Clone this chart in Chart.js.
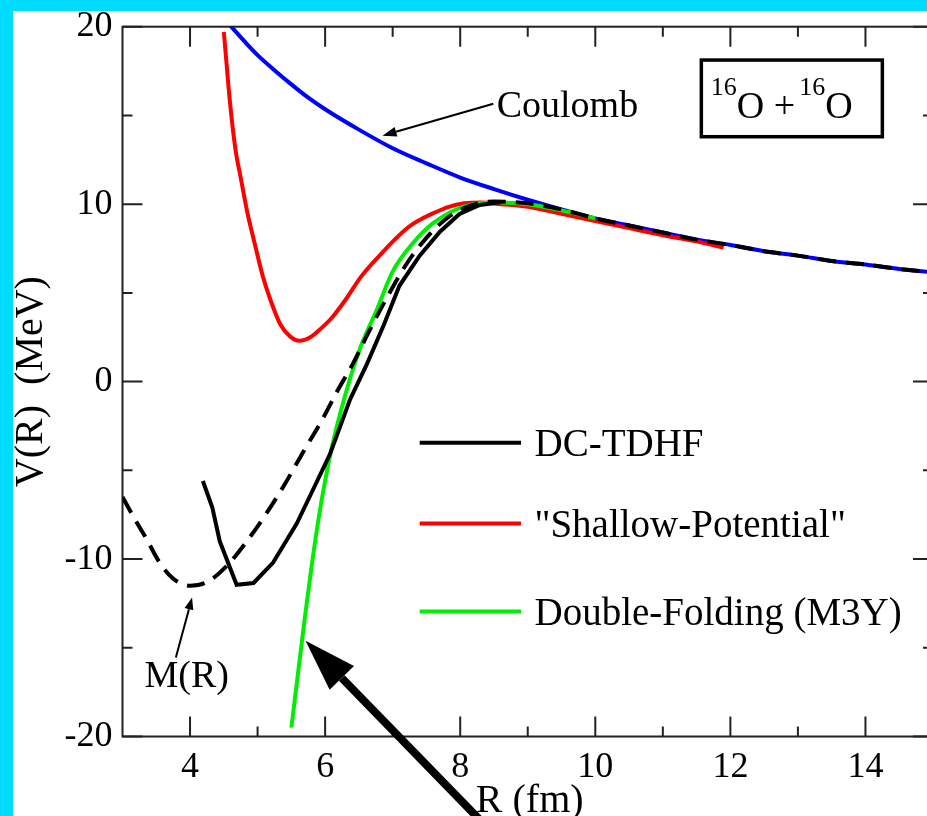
<!DOCTYPE html>
<html>
<head>
<meta charset="utf-8">
<script src="https://cdn.jsdelivr.net/npm/chart.js@4.4.1/dist/chart.umd.min.js"></script>
<style>
    html, body { margin: 0; padding: 0; overflow: hidden; width: 927px; height: 816px; background: #00dcff; }
    .panel { position: absolute; left: 13px; top: 11px; width: 930px; height: 805px; background: #fff; }
</style>
</head>
<body>
<div class="panel"><canvas id="potentialChart"></canvas></div>
<script>
// R in fm, V in MeV
const coulombR = [4.6, 4.8, 5.0, 5.25, 5.5, 5.75, 6.0, 6.5, 7.0, 7.5, 8.0, 8.5, 9.0, 9.5, 10.0, 10.5, 11.0, 11.5, 12.0, 12.5, 13.0, 13.5, 14.0, 14.5, 15.0];
const coulombV = [20.05, 19.2, 18.4, 17.55, 16.75, 16.0, 15.35, 14.2, 13.15, 12.3, 11.5, 10.85, 10.25, 9.7, 9.2, 8.8, 8.4, 8.0, 7.7, 7.35, 7.1, 6.8, 6.6, 6.35, 6.15];

const shallowR = [4.50, 4.53, 4.57, 4.62, 4.68, 4.75, 4.85, 4.95, 5.08, 5.2, 5.34, 5.48, 5.62, 5.78, 5.94, 6.1, 6.3, 6.53, 6.83, 7.03, 7.23, 7.42, 7.61, 7.83, 8.06, 8.3, 8.6, 9.0, 9.5, 10.0, 10.5, 11.0, 11.5, 11.9];
const shallowV = [19.7, 18.4, 16.6, 14.7, 12.9, 11.5, 9.5, 7.9, 5.9, 4.5, 3.2, 2.55, 2.3, 2.5, 3.0, 3.6, 4.6, 5.9, 7.2, 8.0, 8.7, 9.15, 9.5, 9.85, 10.05, 10.1, 10.0, 9.85, 9.45, 9.05, 8.65, 8.25, 7.9, 7.55];

const tdhfR = [4.19, 4.33, 4.44, 4.69, 4.94, 5.23, 5.58, 5.87, 6.07, 6.37, 6.62, 6.87, 7.1, 7.4, 7.7, 7.99, 8.29, 8.6];
const tdhfV = [-5.6, -7.1, -9.0, -11.45, -11.35, -10.2, -8.0, -5.7, -4.1, -1.0, 1.0, 3.2, 5.4, 7.1, 8.45, 9.45, 9.95, 10.1];

const mR = [3.0, 3.16, 3.36, 3.55, 3.75, 4.0, 4.25, 4.54, 4.84, 5.1, 5.4, 5.7, 5.95, 6.17, 6.41, 6.66, 6.91, 7.2, 7.5, 7.8, 8.14, 8.5, 9.0, 9.5, 10.0, 10.5, 11.0, 11.5, 12.0, 12.5, 13.0, 13.5, 14.0, 14.5, 15.0];
const mV = [-6.5, -7.6, -8.9, -10.2, -11.1, -11.5, -11.3, -10.4, -9.0, -7.6, -5.8, -3.8, -2.2, -0.6, 1.0, 2.9, 4.7, 6.6, 8.1, 9.2, 9.9, 10.15, 10.05, 9.7, 9.2, 8.8, 8.4, 8.0, 7.7, 7.35, 7.1, 6.8, 6.6, 6.35, 6.15];

const foldR = [5.50, 5.60, 5.70, 5.80, 5.90, 6.0, 6.1, 6.28, 6.51, 6.76, 7.0, 7.3, 7.59, 7.94, 8.29, 8.6, 9.0, 9.5, 10.0];
const foldV = [-19.5, -16.4, -13.3, -10.4, -7.8, -5.6, -3.7, -1.0, 1.8, 4.0, 6.2, 7.8, 8.9, 9.7, 10.05, 10.1, 10.0, 9.65, 9.2];

const xTickLabels = [4, 6, 8, 10, 12, 14];
const xMinorTicks = [5, 7, 9, 11, 13];
const yTickLabels = [-20, -10, 0, 10, 20];
const yMinorTicks = [-15, -5, 5, 15];

const legendLabels = ['DC-TDHF', '"Shallow-Potential"', 'Double-Folding (M3Y)'];
const legendColors = ['#000000', '#ff0000', '#00ee00'];

const SERIF = "'Liberation Serif', 'Times New Roman', serif";

function toPoints(rs, vs) {
    return rs.map((r, i) => ({ x: r, y: vs[i] }));
}

function arrow(ctx, x0, y0, x1, y1, width, headLen, headHalf) {
    const a = Math.atan2(y1 - y0, x1 - x0);
    const bx = x1 - headLen * Math.cos(a);
    const by = y1 - headLen * Math.sin(a);
    ctx.lineWidth = width;
    ctx.beginPath();
    ctx.moveTo(x0, y0);
    ctx.lineTo(bx, by);
    ctx.stroke();
    ctx.beginPath();
    ctx.moveTo(x1, y1);
    ctx.lineTo(bx + headHalf * Math.sin(a), by - headHalf * Math.cos(a));
    ctx.lineTo(bx - headHalf * Math.sin(a), by + headHalf * Math.cos(a));
    ctx.closePath();
    ctx.fill();
}

// box, ticks, legend and the arrows/labels on top of the curves
const decorations = {
    id: 'decorations',
    beforeDatasetsDraw(chart) {
        const { ctx, chartArea: a, scales: { x, y } } = chart;
        ctx.save();
        ctx.strokeStyle = '#222';
        ctx.lineWidth = 2;
        ctx.strokeRect(a.left, a.top, a.right - a.left, a.bottom - a.top);
        ctx.beginPath();
        const tickX = (v, len) => {
            const px = x.getPixelForValue(v);
            ctx.moveTo(px, a.bottom); ctx.lineTo(px, a.bottom - len);
            ctx.moveTo(px, a.top); ctx.lineTo(px, a.top + len);
        };
        const tickY = (v, len) => {
            const py = y.getPixelForValue(v);
            ctx.moveTo(a.left, py); ctx.lineTo(a.left + len, py);
            ctx.moveTo(a.right, py); ctx.lineTo(a.right - len, py);
        };
        xTickLabels.forEach(v => tickX(v, 20));
        xMinorTicks.forEach(v => tickX(v, 10));
        yTickLabels.forEach(v => tickY(v, 20));
        yMinorTicks.forEach(v => tickY(v, 10));
        ctx.stroke();
        ctx.restore();
    },
    afterDatasetsDraw(chart) {
        const { ctx, chartArea: a, scales: { x, y } } = chart;
        const px = v => x.getPixelForValue(v);
        const py = v => y.getPixelForValue(v);
        ctx.save();
        ctx.fillStyle = '#000';
        ctx.strokeStyle = '#000';
        ctx.textBaseline = 'alphabetic';

        // legend
        ctx.font = '39px ' + SERIF;
        const rows = [-3.45, -8.0, -12.96];
        legendLabels.forEach((label, i) => {
            const ly = py(rows[i]);
            ctx.strokeStyle = legendColors[i];
            ctx.lineWidth = 4;
            ctx.beginPath();
            ctx.moveTo(px(7.4), ly);
            ctx.lineTo(px(8.9), ly);
            ctx.stroke();
            ctx.fillText(label, px(9.1), ly + 13);
        });

        // Coulomb pointer
        ctx.font = '38px ' + SERIF;
        ctx.strokeStyle = '#000';
        ctx.fillText('Coulomb', px(8.54), py(14.9));
        arrow(ctx, px(8.49), py(15.66), px(6.85), py(13.86), 2, 14, 5);

        // M(R) pointer
        ctx.textAlign = 'center';
        ctx.fillText('M(R)', px(3.95), py(-17.2));
        ctx.textAlign = 'left';
        arrow(ctx, px(3.79), py(-15.55), px(4.03), py(-12.17), 2, 12, 4.5);

        // reaction box
        ctx.lineWidth = 3.5;
        ctx.strokeRect(px(11.57), py(18.12), px(14.25) - px(11.57), py(13.8) - py(18.12));
        let tx = px(11.71);
        const base = py(14.86), sup = py(16.15);
        const piece = (txt, size, yy, gap) => {
            ctx.font = size + 'px ' + SERIF;
            ctx.fillText(txt, tx, yy);
            tx += ctx.measureText(txt).width + gap;
        };
        piece('16', 26, sup, 0);
        piece('O', 38, base, 0);
        piece(' +', 38, base, 4);
        piece('16', 26, sup, 0);
        piece('O', 38, base, 0);

        // big pointer onto the folding curve
        arrow(ctx, px(8.47), py(-25.4), px(5.71), py(-14.6), 8, 52, 17);

        // axis titles
        ctx.font = '40px ' + SERIF;
        ctx.textAlign = 'center';
        ctx.fillText('R (fm)', (a.left + a.right) / 2 + 2, 800.7);
        ctx.translate(29, (a.top + a.bottom) / 2);
        ctx.rotate(-Math.PI / 2);
        ctx.fillText('V(R)  (MeV)', 0, 0);
        ctx.restore();
    }
};

const ctx = document.getElementById('potentialChart').getContext('2d');

new Chart(ctx, {
    type: 'scatter',
    data: {
        datasets: [
            { label: 'M(R)', data: toPoints(mR, mV), borderColor: '#000', borderDash: [18, 10], cubicInterpolationMode: 'monotone' },
            { label: 'DC-TDHF', data: toPoints(tdhfR, tdhfV), borderColor: '#000', tension: 0 },
            { label: 'Double-Folding (M3Y)', data: toPoints(foldR, foldV), borderColor: '#00ee00', cubicInterpolationMode: 'monotone' },
            { label: 'Shallow-Potential', data: toPoints(shallowR, shallowV), borderColor: '#ff0000', cubicInterpolationMode: 'monotone' },
            { label: 'Coulomb', data: toPoints(coulombR, coulombV), borderColor: '#0000ff', cubicInterpolationMode: 'monotone' }
        ].map(ds => Object.assign({ showLine: true, pointRadius: 0, borderWidth: 4, fill: false }, ds))
    },
    options: {
        responsive: true,
        maintainAspectRatio: false,
        animation: false,
        layout: { autoPadding: false, padding: { top: 15.7, right: 10, left: 0, bottom: 0 } },
        plugins: {
            legend: { display: false },
            tooltip: { enabled: false }
        },
        scales: {
            x: {
                type: 'linear',
                min: 3,
                max: 15,
                grid: { display: false, drawTicks: false },
                border: { display: false },
                afterBuildTicks: scale => { scale.ticks = xTickLabels.map(v => ({ value: v })); },
                afterFit: scale => {
                    scale.height = 79.5;
                    scale.paddingLeft = 0;
                    scale.paddingRight = 0;
                },
                ticks: {
                    padding: 9,
                    color: '#000',
                    font: { family: SERIF, size: 36 },
                    callback: v => String(v)
                }
            },
            y: {
                type: 'linear',
                min: -20,
                max: 20,
                grid: { display: false, drawTicks: false },
                border: { display: false },
                afterBuildTicks: scale => { scale.ticks = yTickLabels.map(v => ({ value: v })); },
                afterFit: scale => {
                    scale.width = 109.5;
                    scale.paddingTop = 0;
                    scale.paddingBottom = 0;
                },
                ticks: {
                    padding: 10,
                    color: '#000',
                    font: { family: SERIF, size: 36 },
                    callback: v => String(v)
                }
            }
        }
    },
    plugins: [decorations]
});
</script>
</body>
</html>
